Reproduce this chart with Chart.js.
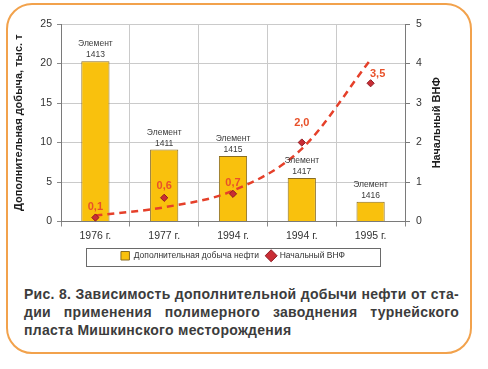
<!DOCTYPE html>
<html><head><meta charset="utf-8">
<script src="https://cdn.jsdelivr.net/npm/chart.js@4/dist/chart.umd.min.js"></script>
<style>
html,body{margin:0;padding:0;background:#fff;width:488px;height:369px;overflow:hidden}
#frame{position:absolute;left:6px;top:3px;width:462px;height:347px;border:2px solid #f2a24c;border-radius:26px;box-sizing:content-box}
#wrap{position:absolute;left:0;top:0;width:466px;height:270px}
#cap{position:absolute;left:24px;top:285px;width:435px;font:bold 14px 'Liberation Sans',Arial,sans-serif;letter-spacing:0.28px;color:#3c3c3c;line-height:18px}
#cap div{white-space:nowrap}
#cap .j{text-align:justify;text-align-last:justify}
</style></head>
<body>
<div id="frame"></div>
<div id="wrap"><canvas id="c"></canvas></div>
<div id="cap">
<div class="j">Рис. 8. Зависимость дополнительной добычи нефти от ста-</div>
<div class="j">дии применения полимерного заводнения турнейского</div>
<div>пласта Мишкинского месторождения</div>
</div>
<script>
const categories = ['1976 г.', '1977 г.', '1994 г.', '1994 г.', '1995 г.'];
const elementNames = ['1413', '1411', '1415', '1417', '1416'];
const extraOil = [20.3, 9.1, 8.3, 5.5, 2.5];
const initialWOR = [0.1, 0.6, 0.7, 2.0, 3.5];
const worTrend = [0.15, 0.36, 0.78, 1.84, 4.1];
const seriesNames = ['Дополнительная добыча нефти', 'Начальный ВНФ'];
const leftTitle = 'Дополнительная добыча, тыс. т';
const rightTitle = 'Начальный ВНФ';

const NARROW = "'Liberation Sans Narrow','Liberation Sans',Arial,sans-serif";
const SANS = "'Liberation Sans',Arial,sans-serif";
const labelShift = [[0,-8],[0,-9],[0,-8],[0,-17],[7,-6]];

const annot = {
  id: 'annot',
  afterDatasetsDraw(chart) {
    const ctx = chart.ctx;
    ctx.save();
    ctx.textAlign = 'center';
    ctx.textBaseline = 'alphabetic';
    ctx.fillStyle = '#3a3a3a';
    ctx.font = "8.5px " + NARROW;
    chart.getDatasetMeta(0).data.forEach((b, i) => {
      ctx.fillText(elementNames[i], b.x, b.y - 4);
      ctx.fillText('Элемент', b.x, b.y - 15);
    });
    ctx.fillStyle = '#e8512a';
    ctx.font = "bold 11px " + SANS;
    chart.getDatasetMeta(1).data.forEach((p, i) => {
      const s = labelShift[i];
      ctx.fillText(initialWOR[i].toFixed(1).replace('.', ','), p.x + s[0], p.y + s[1]);
    });
    ctx.restore();
  },
  afterDraw(chart) {
    const ctx = chart.ctx, a = chart.chartArea;
    const cy = (a.top + a.bottom) / 2;
    [[leftTitle, a.left - 42], [rightTitle, a.right + 32]].forEach(([t, x]) => {
      ctx.save();
      ctx.fillStyle = '#1e1e1e';
      ctx.font = "bold 11px " + SANS;
      ctx.textAlign = 'center';
      ctx.textBaseline = 'middle';
      ctx.translate(x, cy);
      ctx.rotate(-Math.PI / 2);
      ctx.fillText(t, 0, 0);
      ctx.restore();
    });
    // legend frame
    const lg = chart.legend;
    const mx = (a.left + a.right) / 2;
    const half = (a.right - a.left) * 0.855 / 2;
    const my = lg.top + lg.height / 2;
    ctx.save();
    ctx.strokeStyle = '#6a6a6a';
    ctx.lineWidth = 1;
    ctx.strokeRect(Math.round(mx - half) + 0.5, Math.round(my - 9) + 0.5, Math.round(half * 2), 18);
    ctx.restore();
  }
};

new Chart(document.getElementById('c'), {
  data: {
    labels: categories,
    datasets: [
      {
        type: 'bar', label: seriesNames[0], data: extraOil, yAxisID: 'y',
        backgroundColor: '#f9c10d', borderColor: '#8a6d22', borderWidth: 1,
        barPercentage: 0.41, categoryPercentage: 1, order: 3
      },
      {
        type: 'line', label: seriesNames[1], data: initialWOR, yAxisID: 'y1',
        showLine: false, pointStyle: 'rectRot', pointRadius: 3.6,
        backgroundColor: '#c92d35', borderColor: '#8e1b22', borderWidth: 1, order: 1
      },
      {
        type: 'line', label: 'trend', data: worTrend, yAxisID: 'y1',
        borderColor: '#e5402a', borderWidth: 2.5, borderDash: [7, 5],
        pointRadius: 0, cubicInterpolationMode: 'monotone', fill: false, order: 2
      }
    ]
  },
  options: {
    responsive: true, maintainAspectRatio: false, animation: false, devicePixelRatio: 1,
    layout: { padding: { top: 24, left: 0, right: 0, bottom: 0 } },
    scales: {
      x: {
        grid: { offset: true, color: '#cacaca', tickLength: 5, tickColor: '#8a8a8a' },
        border: { color: '#7a7a7a' },
        ticks: { font: { family: NARROW, size: 10.5 }, color: '#333', padding: 3 },
        afterFit(s) { s.height = 22; }
      },
      y: {
        position: 'left', min: 0, max: 25,
        grid: { color: '#cacaca', tickLength: 4, tickColor: '#8a8a8a' },
        border: { color: '#7a7a7a' },
        ticks: { stepSize: 5, font: { family: NARROW, size: 10.5 }, color: '#333', padding: 5 },
        afterFit(s) { s.width = 61; }
      },
      y1: {
        position: 'right', min: 0, max: 5,
        grid: { drawOnChartArea: false, tickLength: 5, tickColor: '#7a7a7a' },
        border: { color: '#7a7a7a' },
        ticks: { stepSize: 1, font: { family: NARROW, size: 10.5 }, color: '#333', padding: 6 },
        afterFit(s) { s.width = 61; }
      }
    },
    plugins: {
      tooltip: { enabled: false },
      legend: {
        position: 'bottom',
        labels: {
          usePointStyle: true, font: { family: NARROW, size: 8.5 }, color: '#333', padding: 8,
          generateLabels(chart) {
            const ds = chart.data.datasets;
            return [0, 1].map(i => ({
              text: ds[i].label,
              fillStyle: ds[i].backgroundColor,
              strokeStyle: ds[i].borderColor,
              lineWidth: 1,
              pointStyle: i === 0 ? 'rect' : 'rectRot',
              datasetIndex: i,
              hidden: false,
              fontColor: '#333'
            }));
          }
        }
      }
    }
  },
  plugins: [annot]
});
</script>
</body></html>
